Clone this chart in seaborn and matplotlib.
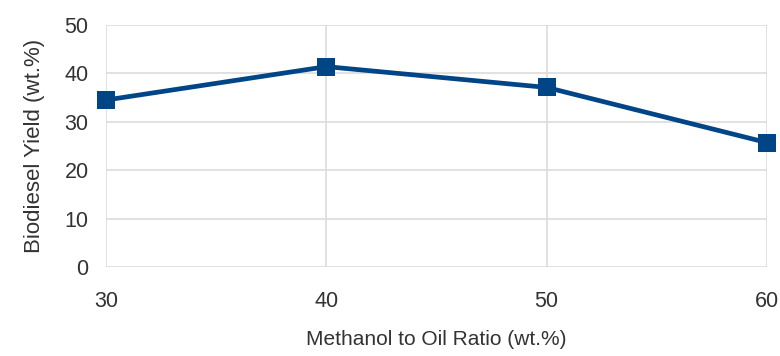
import matplotlib
matplotlib.use("Agg")
import matplotlib.pyplot as plt
import seaborn as sns
import pandas as pd

# values
ratio = [30, 40, 50, 60]
yield_pct = [34.5, 41.4, 37.1, 25.7]
y_ticks = [0, 10, 20, 30, 40, 50]

df = pd.DataFrame({"ratio": ratio, "yield": yield_pct})

sns.set_style("whitegrid")
plt.rcParams["font.family"] = ["Liberation Sans", "DejaVu Sans"]

fig = plt.figure(figsize=(7.8, 3.56), dpi=100)
ax = fig.add_axes([106 / 780, 1 - 267 / 356, (767 - 106) / 780, (267 - 25) / 356])

sns.lineplot(data=df, x="ratio", y="yield", ax=ax, color="#004586",
             linewidth=3.4, marker="s", markersize=13, markeredgewidth=0,
             clip_on=False, zorder=5)

ax.set_xlim(30, 60)
ax.set_ylim(0, 50)
ax.set_xticks(ratio)
ax.set_yticks(y_ticks)

ax.grid(True, color="#dcdcdc", linewidth=1.2)
for s in ax.spines.values():
    s.set_visible(False)
ax.tick_params(axis="both", length=7.5, width=1.2, color="#dcdcdc",
               labelsize=15.5, labelcolor="#333333")
ax.tick_params(axis="x", pad=10)
ax.tick_params(axis="y", pad=5)

ax.set_xlabel("Methanol to Oil Ratio (wt.%)", fontsize=15, color="#333333", labelpad=13)
ax.set_ylabel("Biodiesel Yield (wt.%)", fontsize=16, color="#333333", labelpad=14)

fig.savefig("out.png", dpi=100)
